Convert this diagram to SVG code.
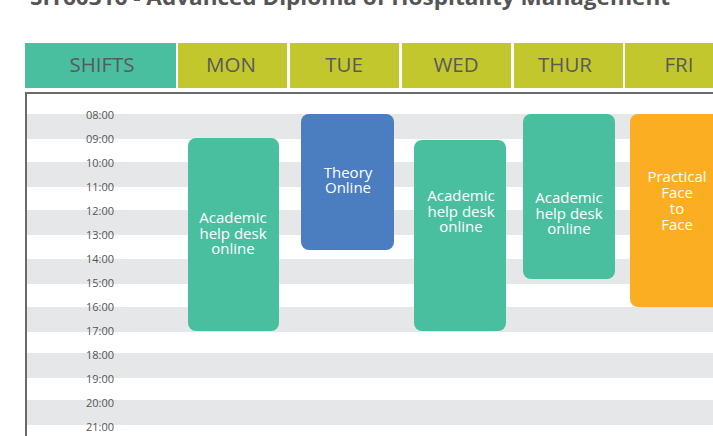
<svg xmlns="http://www.w3.org/2000/svg" width="713" height="436" viewBox="0 0 713 436">
<style>
.title{font-family:"Open Sans","Liberation Sans",sans-serif;font-weight:bold;font-size:22px;fill:#555}
.hd{font-family:"Open Sans","Liberation Sans",sans-serif;font-size:20.5px;fill:#5a5a5a;text-anchor:middle}
.tm{font-family:"Open Sans","Liberation Sans",sans-serif;font-size:11px;fill:#555;text-anchor:end}
.nt{font-family:"Open Sans","Liberation Sans",sans-serif;font-size:15px;fill:#fff;text-anchor:middle}
.stripe{fill:#e6e7e8}
.teal{fill:#4abfa0}
.olive{fill:#c2c72e}
.blue{fill:#4a7ec0}
.orange{fill:#fbae22}
</style>
<rect width="713" height="436" fill="#fff"/>
<text class="title" x="30" y="5" textLength="640" lengthAdjust="spacingAndGlyphs">SIT60316 - Advanced Diploma of Hospitality Management</text>

<g id="header">
<rect class="teal" x="25" y="43" width="151" height="45"/>
<text class="hd" x="102" y="72">SHIFTS</text>
<rect class="olive" x="178" y="43" width="109" height="45"/>
<text class="hd" x="231" y="72">MON</text>
<rect class="olive" x="290" y="43" width="109" height="45"/>
<text class="hd" x="344" y="72">TUE</text>
<rect class="olive" x="402" y="43" width="109" height="45"/>
<text class="hd" x="456" y="72">WED</text>
<rect class="olive" x="514" y="43" width="109" height="45"/>
<text class="hd" x="565" y="72">THUR</text>
<rect class="olive" x="625" y="43" width="110" height="45"/>
<text class="hd" x="679" y="72">FRI</text>
</g>

<g id="grid">
<rect class="stripe" x="27" y="114" width="686" height="25"/>
<rect class="stripe" x="27" y="162" width="686" height="25"/>
<rect class="stripe" x="27" y="210" width="686" height="25"/>
<rect class="stripe" x="27" y="259" width="686" height="25"/>
<rect class="stripe" x="27" y="307" width="686" height="25"/>
<rect class="stripe" x="27" y="353" width="686" height="25"/>
<rect class="stripe" x="27" y="400" width="686" height="25"/>
<path d="M26 440 V93 H720" fill="none" stroke="#6a6a6a" stroke-width="2"/>
</g>

<g id="times">
<text class="tm" x="114" y="119">08:00</text>
<text class="tm" x="114" y="143">09:00</text>
<text class="tm" x="114" y="167">10:00</text>
<text class="tm" x="114" y="191">11:00</text>
<text class="tm" x="114" y="215">12:00</text>
<text class="tm" x="114" y="239">13:00</text>
<text class="tm" x="114" y="263">14:00</text>
<text class="tm" x="114" y="287">15:00</text>
<text class="tm" x="114" y="311">16:00</text>
<text class="tm" x="114" y="335">17:00</text>
<text class="tm" x="114" y="359">18:00</text>
<text class="tm" x="114" y="383">19:00</text>
<text class="tm" x="114" y="407">20:00</text>
<text class="tm" x="114" y="431">21:00</text>
</g>

<g id="mon">
<rect class="teal" x="188" y="138" width="91" height="193" rx="8"/>
<text class="nt" x="233" y="223">Academic</text>
<text class="nt" x="233" y="239">help desk</text>
<text class="nt" x="233" y="254">online</text>
</g>
<g id="tue">
<rect class="blue" x="301" y="114" width="93" height="136" rx="8"/>
<text class="nt" x="348" y="178">Theory</text>
<text class="nt" x="348" y="193">Online</text>
</g>
<g id="wed">
<rect class="teal" x="414" y="140" width="92" height="191" rx="8"/>
<text class="nt" x="461" y="201">Academic</text>
<text class="nt" x="461" y="217">help desk</text>
<text class="nt" x="461" y="232">online</text>
</g>
<g id="thur">
<rect class="teal" x="523" y="114" width="92" height="165" rx="8"/>
<text class="nt" x="569" y="203">Academic</text>
<text class="nt" x="569" y="219">help desk</text>
<text class="nt" x="569" y="234">online</text>
</g>
<g id="fri">
<rect class="orange" x="630" y="114" width="92" height="193" rx="8"/>
<text class="nt" x="677" y="182">Practical</text>
<text class="nt" x="677" y="198">Face</text>
<text class="nt" x="677" y="214">to</text>
<text class="nt" x="677" y="230">Face</text>
</g>
<g id="connectors"/>
</svg>
